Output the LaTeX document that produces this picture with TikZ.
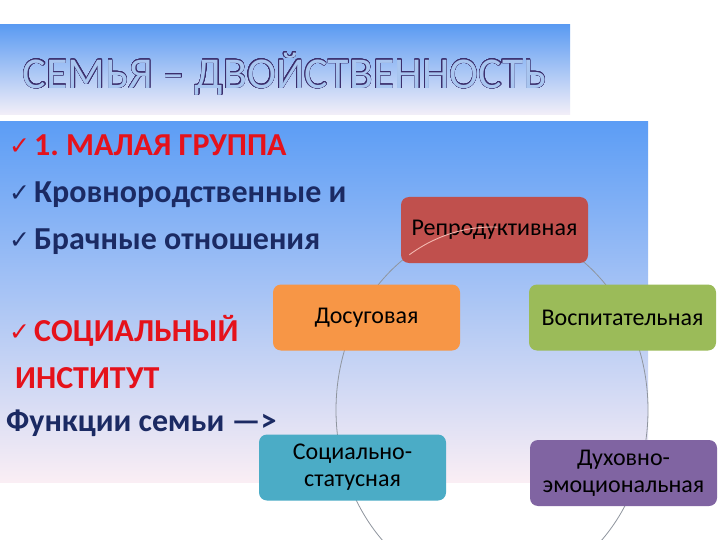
\documentclass[tikz,border=0pt]{standalone}
\usepackage{fontspec}
\setmainfont{Carlito}
\newfontfamily\symfont{DejaVu Sans}
\usepackage{contour}
\contourlength{0.45pt}
\contournumber{24}
\frenchspacing
\definecolor{titletop}{HTML}{5B9BF2}
\definecolor{titlebot}{HTML}{F3EFF8}
\definecolor{maintop}{HTML}{5C9DF5}
\definecolor{mainbot}{HTML}{FAEEF4}
\definecolor{titlefill}{HTML}{A9C6F0}
\definecolor{titleline}{HTML}{3B2E6C}
\definecolor{redtxt}{HTML}{E5121B}
\definecolor{navytxt}{HTML}{1B2A63}
\definecolor{cred}{HTML}{C0504D}
\definecolor{corange}{HTML}{F79646}
\definecolor{cgreen}{HTML}{9BBB59}
\definecolor{cteal}{HTML}{4BACC6}
\definecolor{cpurple}{HTML}{8064A2}
\definecolor{ringc}{HTML}{8F959E}
\definecolor{pinkarc}{HTML}{F3B8B0}
\begin{document}
\begin{tikzpicture}[x=1pt,y=-1pt,
  fbox/.style={rounded corners=8pt, minimum width=187pt, minimum height=66pt,
    inner sep=2pt, align=center, text=black,
    font=\fontsize{24}{27}\selectfont},
  lefttxt/.style={anchor=base west, inner sep=0pt,
    font=\fontsize{32}{36}\bfseries},
  chk/.style={anchor=base west, inner sep=0pt, font=\symfont\fontsize{25}{26}\selectfont},
  ring/.style={draw=ringc, line width=0.8pt}]
\useasboundingbox (0,0) rectangle (720,540);
\fill[white] (0,0) rectangle (720,540);
% title band
\shade[top color=titletop, bottom color=titlebot] (0,25) rectangle (570,115);
\node[inner sep=0pt, font=\fontsize{44}{48}\selectfont] (title) at (285,74)
  {{\color{titlefill}\contour{titleline}{СЕМЬЯ – ДВОЙСТВЕННОСТЬ}}};
% main band
\shade[top color=maintop, bottom color=mainbot] (0,122) rectangle (648,482);
% left text
\node[chk, text=redtxt] (c1) at (9,155) {✓};
\node[lefttxt, text=redtxt] (t1) at (34,156) {1. МАЛАЯ ГРУППА};
\node[chk, text=navytxt] (c2) at (9,202) {✓};
\node[lefttxt, text=navytxt] (t2) at (34,203) {Кровнородственные и};
\node[chk, text=navytxt] (c3) at (9,248) {✓};
\node[lefttxt, text=navytxt] (t3) at (34,249) {Брачные отношения};
\node[chk, text=redtxt] (c4) at (9,340) {✓};
\node[lefttxt, text=redtxt] (t4) at (34,341) {СОЦИАЛЬНЫЙ};
\node[lefttxt, text=redtxt] (t5) at (15,388) {ИНСТИТУТ};
\node[lefttxt, text=navytxt] (t6) at (6,431) {Функции семьи —>};
% ring
\draw[ring] (492,410) ellipse [x radius=156pt, y radius=183pt];
% function boxes
\node[fbox, fill=cred] (rep) at (494.5,230) {Репродуктивная};
\node[fbox, fill=corange] (dos) at (366.5,317.5) {Досуговая};
\node[fbox, fill=cgreen] (vos) at (622.5,317.5) {Воспитательная};
\node[fbox, fill=cteal] (soc) at (352.5,467.5) {Социально-\\статусная};
\node[fbox, fill=cpurple] (duh) at (623.5,473) {Духовно-\\эмоциональная};
% visible arc piece over the red box
\draw[pinkarc, line width=0.9pt] (409.3,254.8) arc[start angle=122, end angle=88, x radius=156pt, y radius=183pt];
\end{tikzpicture}
\end{document}
